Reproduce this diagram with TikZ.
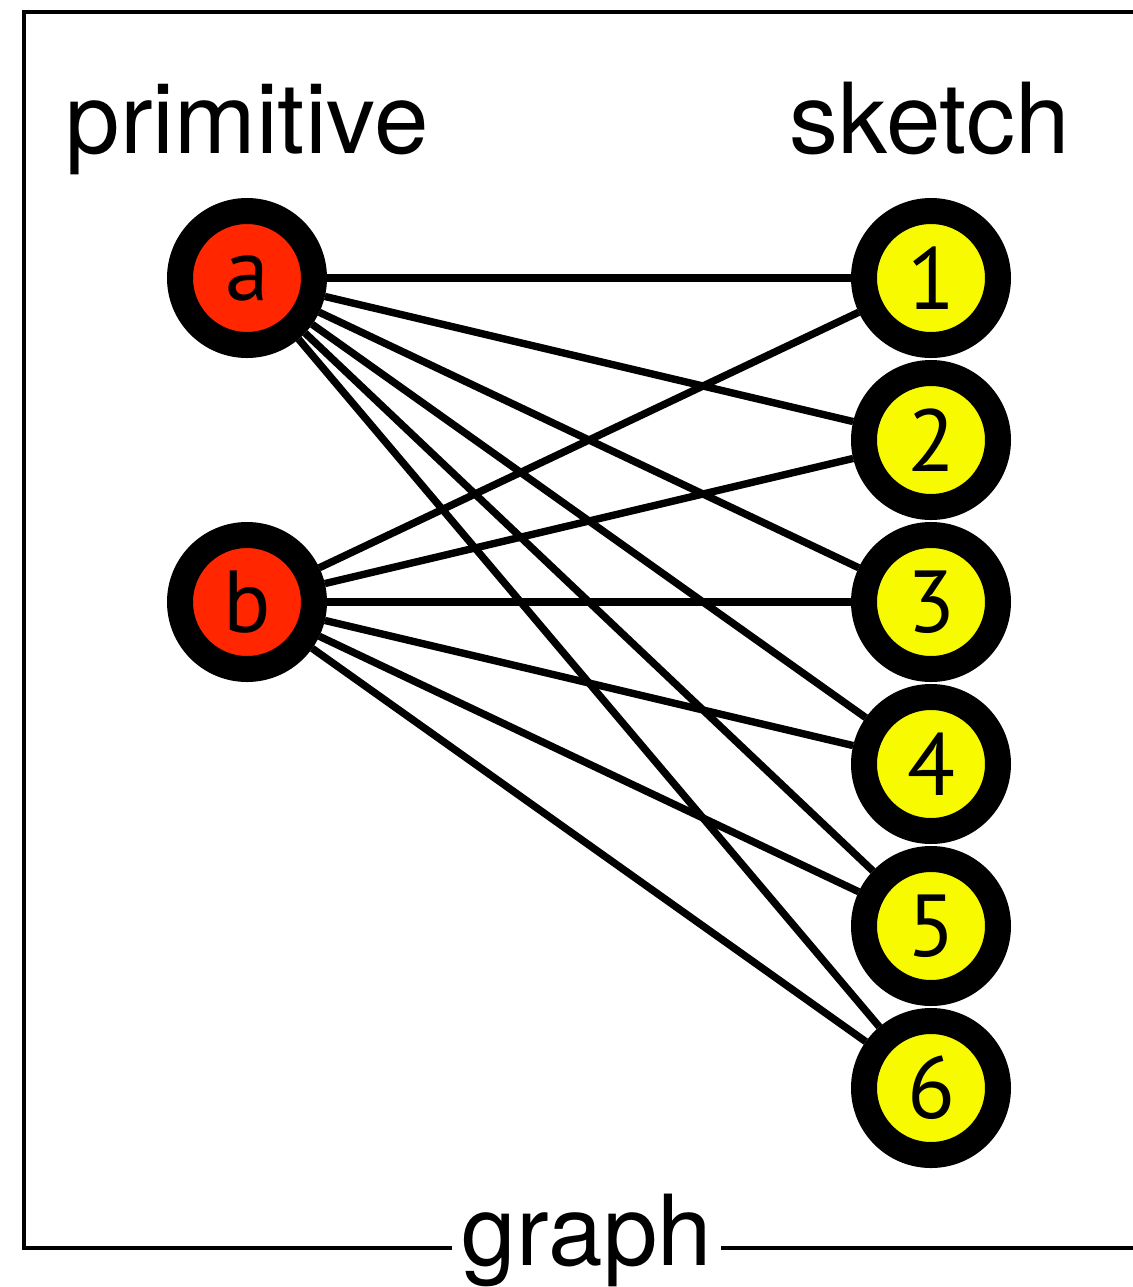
\documentclass[tikz,border=0pt]{standalone}
\usepackage{fontspec}
\setmainfont{TeX Gyre Heros}
\newfontfamily\nodefont{PT Sans}
\definecolor{prim}{RGB}{255,38,0}
\definecolor{sk}{RGB}{248,250,0}
\tikzset{
  vert/.style={circle, draw=black, line width=13pt, minimum size=67pt, inner sep=0pt,
    font=\nodefont\fontsize{44}{44}\selectfont},
  pnode/.style={vert, fill=prim},
  snode/.style={vert, fill=sk},
  edge/.style={line width=3.7pt, black},
  lbl/.style={font=\fontsize{49}{49}\selectfont, anchor=base, inner sep=0pt},
  frame/.style={line width=2pt, black}
}
\begin{document}
\begin{tikzpicture}[x=0.5pt,y=-0.5pt]
\useasboundingbox (0,0) rectangle (1132,1287);
\node[lbl] (tprim) at (247,153) {primitive};
\node[lbl] (tsk) at (930,153) {sketch};
\node[lbl, inner xsep=8pt, fill=white] (tgraph) at (587,1265) {graph};
\coordinate (tr) at (1200,11.5);
\coordinate (tl) at (23.5,11.5);
\coordinate (bl) at (23.5,1248);
\coordinate (br) at (1200,1248);
\coordinate (gl) at (452,1248);
\coordinate (gr) at (721,1248);
\draw[frame] (tr) -- (tl) -- (bl) -- (gl);
\draw[frame] (gr) -- (br);
\node[pnode] (a) at (247,278) {a};
\node[pnode] (b) at (247,602) {b};
\node[snode] (s1) at (931,278) {1};
\node[snode] (s2) at (931,440) {2};
\node[snode] (s3) at (931,602) {3};
\node[snode] (s4) at (931,764) {4};
\node[snode] (s5) at (931,926) {5};
\node[snode] (s6) at (931,1088) {6};
\foreach \s in {s1,s2,s3,s4,s5,s6}{
  \draw[edge] (a) -- (\s);
  \draw[edge] (b) -- (\s);
}
\end{tikzpicture}
\end{document}
